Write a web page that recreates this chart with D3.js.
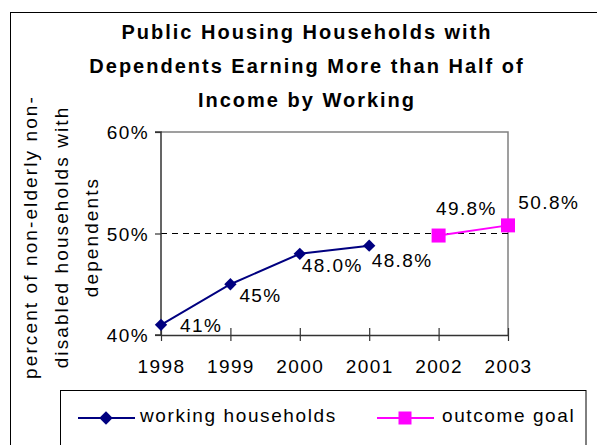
<!DOCTYPE html>
<html>
<head>
<meta charset="utf-8">
<script src="https://cdn.jsdelivr.net/npm/d3@7"></script>
<style>
body { margin: 0; background: #fff; }
svg { font-family: "Liberation Sans", Arial, sans-serif; }
</style>
</head>
<body>
<svg id="chart" width="597" height="445"></svg>
<script>
// data
var years = ["1998", "1999", "2000", "2001", "2002", "2003"];
var workYears = ["1998", "1999", "2000", "2001"];
var workValues = [41, 45, 48.0, 48.8];
var workLabels = ["41%", "45%", "48.0%", "48.8%"];
var goalYears = ["2002", "2003"];
var goalValues = [49.8, 50.8];
var goalLabels = ["49.8%", "50.8%"];
var yTicks = [40, 50, 60];
var titleLines = ["Public Housing Households with", "Dependents Earning More than Half of", "Income by Working"];
var yTitleLines = ["percent of non-elderly non-", "disabled households with", "dependents"];

var navy = "#000080", magenta = "#ff00ff";
var fs = 19, ls = 1.4;
var svg = d3.select("#chart");

// outer frame
svg.append("rect").attr("x", 10.5).attr("y", 12.5).attr("width", 600).attr("height", 450)
  .attr("fill", "none").attr("stroke", "#000").attr("stroke-width", 1);

var pLeft = 161, pRight = 508, pTop = 132, pBottom = 335;
var x = d3.scalePoint().domain(years).range([pLeft, pRight]);
var y = d3.scaleLinear().domain([40, 60]).range([pBottom, pTop]);

// title
svg.append("g").selectAll("text").data(titleLines).enter().append("text")
  .attr("x", 307).attr("y", function(d, i) { return 39 + i * 34; })
  .attr("text-anchor", "middle").attr("font-weight", "bold").attr("font-size", 20)
  .attr("letter-spacing", 2).text(function(d) { return d; });

// y title
svg.append("g").selectAll("text").data(yTitleLines).enter().append("text")
  .attr("transform", function(d, i) { return "translate(" + (37 + i * 30.5) + ",237) rotate(-90)"; })
  .attr("text-anchor", "middle").attr("font-size", fs).attr("letter-spacing", 2.1)
  .text(function(d) { return d; });

// plot border (top/right gray)
svg.append("path").attr("d", "M" + pLeft + "," + pTop + "H" + pRight + "V" + pBottom)
  .attr("fill", "none").attr("stroke", "#808080").attr("stroke-width", 1.5);

// dashed 50% line
svg.append("line").attr("x1", pLeft).attr("x2", pRight).attr("y1", y(50)).attr("y2", y(50))
  .attr("stroke", "#000").attr("stroke-dasharray", "6,5").attr("stroke-width", 1);

// axes
var yAxis = svg.append("g").attr("transform", "translate(" + pLeft + ",0)")
  .call(d3.axisLeft(y).tickValues(yTicks).tickSize(6).tickFormat(function(d) { return d + "%"; }));
var xAxis = svg.append("g").attr("transform", "translate(0," + pBottom + ")")
  .call(d3.axisBottom(x).tickSize(6).tickSizeOuter(0));
[xAxis, yAxis].forEach(function(a) {
  a.select(".domain").attr("stroke", "#333").attr("stroke-width", 1.5);
  a.selectAll(".tick line").attr("stroke", "#333").attr("stroke-width", 1.2);
  a.selectAll("text").attr("font-size", fs).attr("letter-spacing", ls).attr("fill", "#000")
    .attr("font-family", "Liberation Sans, Arial, sans-serif");
});
yAxis.select(".domain").attr("d", "M-6," + pBottom + "H0V" + pTop + "H-6");
yAxis.selectAll("text").attr("x", -12).attr("dy", "0.36em");
xAxis.selectAll(".tick line").attr("y1", -7).attr("y2", 6);
xAxis.selectAll("text").attr("y", 38).attr("dy", 0).attr("dx", 0);

var line = d3.line().x(function(d) { return x(d[0]); }).y(function(d) { return y(d[1]); });
var work = d3.zip(workYears, workValues);
var goal = d3.zip(goalYears, goalValues);

svg.append("path").datum(work).attr("d", line).attr("fill", "none").attr("stroke", navy).attr("stroke-width", 2);
svg.append("path").datum(goal).attr("d", line).attr("fill", "none").attr("stroke", magenta).attr("stroke-width", 2);

svg.selectAll(".wpt").data(work).enter().append("path").attr("class", "wpt")
  .attr("transform", function(d) { return "translate(" + x(d[0]) + "," + y(d[1]) + ") rotate(45)"; })
  .attr("d", d3.symbol().type(d3.symbolSquare).size(76)).attr("fill", navy);
svg.selectAll(".gpt").data(goal).enter().append("rect").attr("class", "gpt")
  .attr("x", function(d) { return x(d[0]) - 7; }).attr("y", function(d) { return y(d[1]) - 7; })
  .attr("width", 14).attr("height", 14).attr("fill", magenta);

// data labels
var workOff = [[19, 7], [9, 17.5], [2, 18], [2.5, 21.6]];
svg.selectAll(".wlab").data(work).enter().append("text").attr("class", "wlab")
  .attr("x", function(d, i) { return x(d[0]) + workOff[i][0]; })
  .attr("y", function(d, i) { return y(d[1]) + workOff[i][1]; })
  .attr("font-size", fs).attr("letter-spacing", ls).text(function(d, i) { return workLabels[i]; });
var goalOff = [[-2.6, -21], [10.3, -16.6]];
svg.selectAll(".glab").data(goal).enter().append("text").attr("class", "glab")
  .attr("x", function(d, i) { return x(d[0]) + goalOff[i][0]; })
  .attr("y", function(d, i) { return y(d[1]) + goalOff[i][1]; })
  .attr("font-size", fs).attr("letter-spacing", ls).text(function(d, i) { return goalLabels[i]; });

// legend
svg.append("rect").attr("x", 60.5).attr("y", 390.5).attr("width", 525.5).attr("height", 80)
  .attr("fill", "none").attr("stroke", "#000").attr("stroke-width", 1);
var legend = [
  { name: "working households", color: navy, x0: 78, shape: "diamond" },
  { name: "outcome goal", color: magenta, x0: 377, shape: "square" }
];
var lg = svg.selectAll(".leg").data(legend).enter().append("g").attr("class", "leg")
  .attr("transform", function(d) { return "translate(" + d.x0 + ",418)"; });
lg.append("line").attr("x1", 0).attr("x2", 57).attr("stroke", function(d) { return d.color; }).attr("stroke-width", 2);
lg.append("path")
  .attr("transform", function(d) { return d.shape == "diamond" ? "translate(28,0) rotate(45)" : "translate(28,0)"; })
  .attr("d", function(d) { return d3.symbol().type(d3.symbolSquare).size(d.shape == "diamond" ? 90 : 169)(); })
  .attr("fill", function(d) { return d.color; });
lg.append("text").attr("x", function(d) { return d.shape == "diamond" ? 62 : 65; }).attr("y", 4)
  .attr("font-size", fs).attr("letter-spacing", 1.6).text(function(d) { return d.name; });
</script>
</body>
</html>
